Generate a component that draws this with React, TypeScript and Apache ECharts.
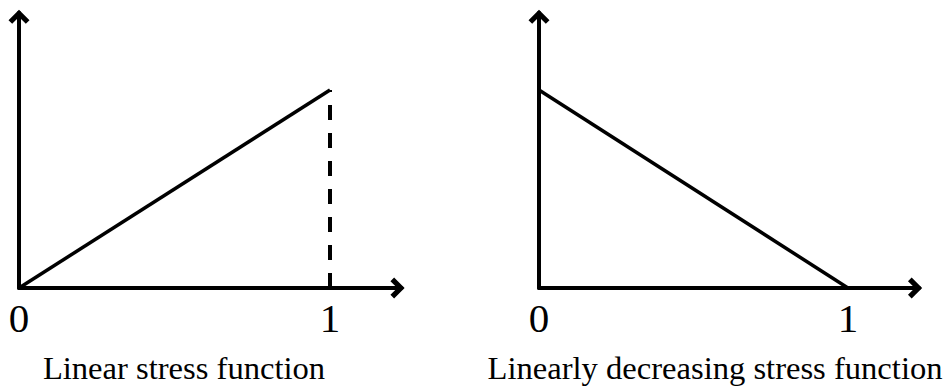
import React, { useEffect, useRef } from 'react';
import * as echarts from 'echarts';

// ---- data ----
const xTickLabels = ['0', '1'];
const linearX = [0, 1];
const linearY = [0, 1];
const dashedX = [1, 1];
const dashedY = [0, 1];
const decreasingX = [0, 1];
const decreasingY = [1, 0];
const panelTitles = ['Linear stress function', 'Linearly decreasing stress function'];

const X_MAX = 1.23;
const Y_MAX = 1.39;

const CHEVRON = 'path://M10,0 L20,10 L16.5,13.5 L10,7 L3.5,13.5 L0,10 Z';
const FONT = '"Liberation Serif", "Times New Roman", serif';

function zip(xs: number[], ys: number[]) {
  return xs.map((x, i) => [x, ys[i]]);
}

export default function App() {
  const ref = useRef<HTMLDivElement>(null);
  useEffect(() => {
    if (!ref.current) return;
    const chart = echarts.init(ref.current, undefined, { renderer: 'svg' });
    const axisLine = {
      show: true,
      onZero: false,
      symbol: ['none', CHEVRON],
      symbolSize: [21, 21],
      symbolOffset: [0, -4],
      lineStyle: { color: '#000', width: 4 },
    };
    const makeX = (i: number) => ({
      type: 'value',
      gridIndex: i,
      min: 0,
      max: X_MAX,
      interval: 1,
      axisLine,
      axisTick: { show: false },
      splitLine: { show: false },
      axisLabel: {
        fontSize: 41,
        fontFamily: FONT,
        color: '#000',
        margin: 9,
        formatter: (v: number) => (xTickLabels.includes(String(v)) ? String(v) : ''),
      },
    });
    const makeY = (i: number) => ({
      type: 'value',
      gridIndex: i,
      min: 0,
      max: Y_MAX,
      axisLine,
      axisTick: { show: false },
      splitLine: { show: false },
      axisLabel: { show: false },
    });
    const lineStyle = { color: '#000', width: 3.5 };
    chart.setOption({
      animation: false,
      backgroundColor: '#fff',
      grid: [
        { left: 19, top: 288 - Y_MAX * 198, width: X_MAX * 311, height: Y_MAX * 198 },
        { left: 539, top: 288 - Y_MAX * 198, width: X_MAX * 309, height: Y_MAX * 198 },
      ],
      xAxis: [makeX(0), makeX(1)],
      yAxis: [makeY(0), makeY(1)],
      series: [
        {
          type: 'line', xAxisIndex: 0, yAxisIndex: 0, symbol: 'none',
          data: zip(linearX, linearY), lineStyle,
        },
        {
          type: 'line', xAxisIndex: 0, yAxisIndex: 0, symbol: 'none',
          data: zip(dashedX, dashedY), lineStyle: { color: '#000', width: 4, type: [15, 13] },
        },
        {
          type: 'line', xAxisIndex: 1, yAxisIndex: 1, symbol: 'none',
          data: zip(decreasingX, decreasingY), lineStyle,
        },
      ],
      graphic: [
        {
          type: 'text', x: 184, y: 368,
          style: { text: panelTitles[0], fontSize: 32.6, fontFamily: FONT, fill: '#000', align: 'center', verticalAlign: 'middle' },
        },
        {
          type: 'text', x: 715, y: 368,
          style: { text: panelTitles[1], fontSize: 32.6, fontFamily: FONT, fill: '#000', align: 'center', verticalAlign: 'middle' },
        },
      ],
    });
    return () => chart.dispose();
  }, []);
  return <div ref={ref} style={{ position: 'fixed', left: 0, top: 0, width: 949, height: 387 }} />;
}
